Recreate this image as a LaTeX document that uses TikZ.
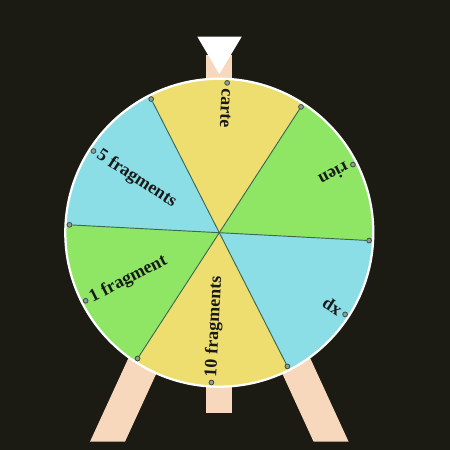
\documentclass[tikz,border=0pt]{standalone}
\usepackage{fontspec}
\setmainfont{Liberation Serif}
\definecolor{bgDark}{RGB}{27,27,20}
\definecolor{wheelYellow}{RGB}{238,222,112}
\definecolor{wheelCyan}{RGB}{140,222,230}
\definecolor{wheelGreen}{RGB}{142,230,100}
\definecolor{standPeach}{RGB}{248,216,188}
\definecolor{spokeTeal}{RGB}{60,105,85}
\tikzset{
  stand/.style  = {fill=standPeach},
  rim/.style    = {draw=white, line width=1.7pt},
  spoke/.style  = {draw=spokeTeal, line width=0.7pt}
}

\begin{document}
\begin{tikzpicture}[x=0.75pt, y=0.75pt,
    dot/.style={circle, draw=spokeTeal!80!black, fill=black!40, line width=0.6pt,
                inner sep=0pt, minimum size=3.6pt},
    lbl/.style={anchor=west, inner sep=4pt, text=black!90,
                font=\fontsize{13.5}{16}\selectfont\bfseries}
  ]
    % background fixes the page
    \fill[bgDark] (-219.3,-217.3) rectangle (230.7,232.7);
    % stand behind the wheel
    \fill[stand] (-13,-180.3) rectangle (13,177.7);
    \fill[stand] (-129.3,-209) -- (-94.3,-209) -- (-25.8,-60) -- (-60.8,-60) -- cycle;
    \fill[stand] (129.3,-209) -- (94.3,-209) -- (25.8,-60) -- (60.8,-60) -- cycle;
    % sectors
    \fill[wheelYellow] (0,0) -- (57:154)  arc[start angle=57,  end angle=117, radius=154] -- cycle;
    \fill[wheelCyan]   (0,0) -- (117:154) arc[start angle=117, end angle=177, radius=154] -- cycle;
    \fill[wheelGreen]  (0,0) -- (177:154) arc[start angle=177, end angle=237, radius=154] -- cycle;
    \fill[wheelYellow] (0,0) -- (237:154) arc[start angle=237, end angle=297, radius=154] -- cycle;
    \fill[wheelCyan]   (0,0) -- (297:154) arc[start angle=297, end angle=357, radius=154] -- cycle;
    \fill[wheelGreen]  (0,0) -- (357:154) arc[start angle=357, end angle=417, radius=154] -- cycle;
    \draw[rim] (0,0) circle[radius=154];
    % boundary dots and spokes
    \node[dot] (b57)  at (57:150)  {};
    \node[dot] (b117) at (117:150) {};
    \node[dot] (b177) at (177:150) {};
    \node[dot] (b237) at (237:150) {};
    \node[dot] (b297) at (297:150) {};
    \node[dot] (b357) at (357:150) {};
    \draw[spoke] (b57)--(b237); \draw[spoke] (b117)--(b297); \draw[spoke] (b177)--(b357);
    % prizes
    \node[dot] (p87)  at (87:150)  {};
    \node[dot] (p147) at (147:150) {};
    \node[dot] (p207) at (207:150) {};
    \node[dot] (p267) at (267:150) {};
    \node[dot] (p327) at (327:150) {};
    \node[dot] (p27)  at (27:150)  {};
    \node[lbl, rotate=267] (carte) at (p87)  {carte};
    \node[lbl, rotate=327] (frag5) at (p147) {5 fragments};
    \node[lbl, rotate=27]  (frag1) at (p207) {1 fragment};
    \node[lbl, rotate=87]  (frag10) at (p267) {10 fragments};
    \node[lbl, rotate=147] (xp)    at (p327) {xp};
    \node[lbl, rotate=207] (rien)  at (p27)  {rien};
    % pointer
    \fill[white] (-22,196) -- (22.4,196) -- (0,158.7) -- cycle;
  \end{tikzpicture}
\end{document}
